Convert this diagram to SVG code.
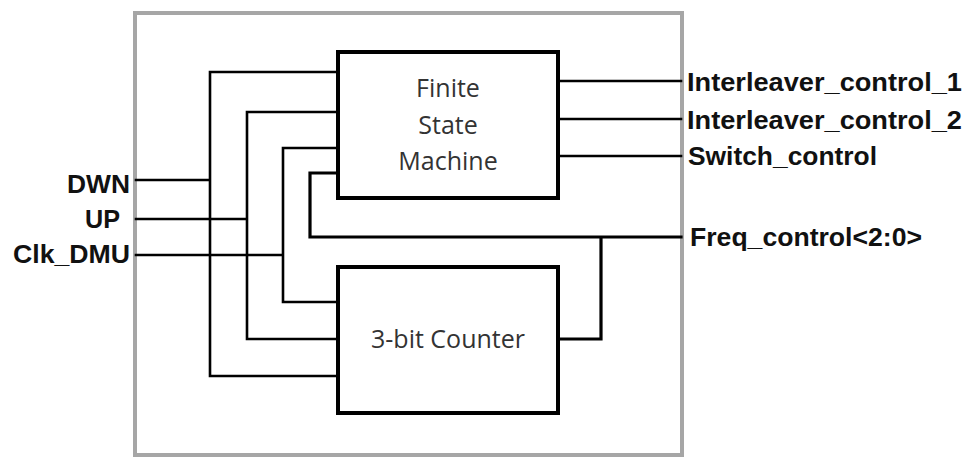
<svg xmlns="http://www.w3.org/2000/svg" width="969" height="457" viewBox="0 0 969 457">
<style>
.frame{fill:#fff;stroke:#a6a6a6;stroke-width:4}
.blk{fill:#fff;stroke:#000;stroke-width:4}
.w{fill:none;stroke:#000;stroke-width:2.6;stroke-linejoin:miter;stroke-linecap:square}
.bus{fill:none;stroke:#000;stroke-width:3.2;stroke-linecap:square}
.in{font-family:"Open Sans","DejaVu Sans",sans-serif;font-size:25px;fill:#333;text-anchor:middle}
.lbl{font-family:"Liberation Sans",Arial,sans-serif;font-weight:bold;font-size:25px;fill:#111}
</style>
<rect class="frame" x="135" y="13" width="547" height="442"/>
<g id="connectors">
<path class="w" d="M136,180 H210 M338,72 H210 V376 H338"/>
<path class="w" d="M136,219 H247 M338,112 H247 V339 H338"/>
<path class="w" d="M136,255 H283 M338,148 H283 V302 H338"/>
<path class="w" d="M558,81 H681 M558,119 H681 M558,156 H681"/>
<path class="bus" d="M338,173 H310 V237 H681 M558,339 H601 V237"/>
</g>
<g id="fsm">
<rect class="blk" x="338" y="52" width="220" height="146"/>
<text class="in" x="448" y="97">Finite</text>
<text class="in" x="448" y="134">State</text>
<text class="in" x="448" y="170">Machine</text>
</g>
<g id="counter">
<rect class="blk" x="338" y="267" width="220" height="146"/>
<text class="in" x="448" y="348">3-bit Counter</text>
</g>
<g id="inputs">
<text class="lbl" x="67" y="193" textLength="63" lengthAdjust="spacingAndGlyphs">DWN</text>
<text class="lbl" x="85" y="228" textLength="35" lengthAdjust="spacingAndGlyphs">UP</text>
<text class="lbl" x="13" y="263" textLength="117" lengthAdjust="spacingAndGlyphs">Clk_DMU</text>
</g>
<g id="outputs">
<text class="lbl" x="687" y="91" textLength="275" lengthAdjust="spacingAndGlyphs">Interleaver_control_1</text>
<text class="lbl" x="687" y="129" textLength="275" lengthAdjust="spacingAndGlyphs">Interleaver_control_2</text>
<text class="lbl" x="688" y="165" textLength="189" lengthAdjust="spacingAndGlyphs">Switch_control</text>
<text class="lbl" x="690" y="246" textLength="232" lengthAdjust="spacingAndGlyphs">Freq_control&lt;2:0&gt;</text>
</g>
</svg>
